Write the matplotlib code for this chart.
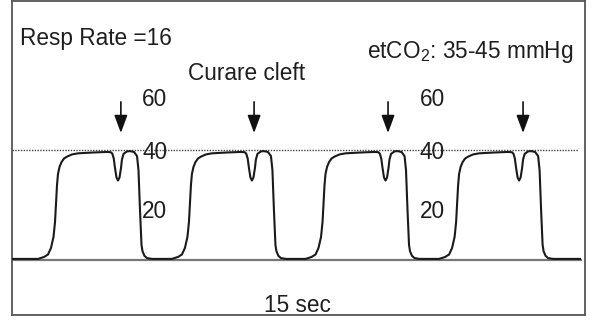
import numpy as np
import matplotlib
matplotlib.use("Agg")
import matplotlib.pyplot as plt
from matplotlib import font_manager

# narrow sans if we have it, plain Liberation Sans otherwise
names = {f.name for f in font_manager.fontManager.ttflist}
font = "Liberation Sans Narrow" if "Liberation Sans Narrow" in names else "Liberation Sans"
fs = 19 if font.endswith("Narrow") else 16.3
plt.rcParams["font.family"] = [font, "DejaVu Sans"]
plt.rcParams["mathtext.fontset"] = "custom"
plt.rcParams["mathtext.rm"] = font
plt.rcParams["mathtext.it"] = font

# one breath, time (s) relative to the cleft minimum, CO2 in mmHg
breath_t = [-2.234, -2.066, -1.955, -1.871, -1.801, -1.759, -1.731, -1.703, -1.676,
            -1.634, -1.578, -1.508, -1.424, -1.285, -1.117, -0.698, -0.307,
            -0.200, -0.160, -0.120, -0.084, -0.042, 0.0, 0.042,
            0.084, 0.110, 0.154, 0.251, 0.335, 0.447, 0.531, 0.572, 0.614, 0.656,
            0.684, 0.740, 0.810, 0.949]
breath_co2 = [0.4, 1.1, 2.0, 4.4, 8.4, 13.8, 20.7, 27.3, 31.3,
              33.8, 35.6, 36.9, 37.6, 38.4, 38.8, 39.1, 39.3,
              39.2, 38.7, 37.0, 33.5, 30.0, 28.9, 30.0,
              33.5, 36.5, 38.6, 39.5, 39.6, 39.3, 37.8, 32.7, 18.2, 5.5,
              3.2, 1.5, 0.7, 0.4]
cleft_t = [2.96, 6.70, 10.43, 14.16]      # time of each curare cleft
arrow_t = [3.04, 6.76, 10.50, 14.27]
trace_start, trace_end, base_co2 = 0.0, 15.86, 0.4

scale_labels = ["60", "40", "20"]
scale_y = [58.2, 39.0, 17.5]
scale_x = [3.99, 11.73]

t = [trace_start]
co2 = [base_co2]
for c in cleft_t:
    t += [c + v for v in breath_t]
    co2 += breath_co2
t.append(trace_end)
co2.append(base_co2)

fig = plt.figure(figsize=(6.02, 3.24), dpi=100)
ax = fig.add_axes([12 / 602, 9 / 324, 573 / 602, 314 / 324])
ax.set_xlim(0, 16.0)
ax.set_ylim(-20, 94.2)
ax.set_xticks([])
ax.set_yticks([])
for s in ax.spines.values():
    s.set_color("#555555")
    s.set_linewidth(1.3)

ax.plot([0, 15.9], [0, 0], color="#777777", lw=1.6, zorder=1)
ax.plot([0, 15.8], [40, 40], color="#444444", lw=1.0, ls=(0, (1.0, 1.0)), zorder=1)
ax.plot(t, co2, color="#1a1a1a", lw=1.5, solid_joinstyle="round", zorder=3)

for a in arrow_t:
    ax.annotate("", xy=(a, 46.2), xytext=(a, 57.5),
                arrowprops=dict(arrowstyle="-|>,head_length=1.08,head_width=0.4",
                                lw=1.2, color="#111111", shrinkA=0, shrinkB=0))

for x in scale_x:
    for lab, y in zip(scale_labels, scale_y):
        ax.text(x, y, lab, ha="center", va="center", fontsize=fs, color="#1e1e1e", zorder=2)

ax.text(0.22, 78.2, "Resp Rate =16", fontsize=fs, color="#1e1e1e", va="baseline")
ax.text(4.91, 65.5, "Curare cleft", fontsize=fs, color="#1e1e1e", va="baseline")
ax.text(15.67, 73.5, r"etCO$_2$: 35-45 mmHg", fontsize=fs, color="#1e1e1e",
        ha="right", va="baseline")
ax.text(7.97, -18.9, "15 sec", fontsize=fs, color="#1e1e1e", ha="center", va="baseline")

fig.savefig("out.png", dpi=100)
